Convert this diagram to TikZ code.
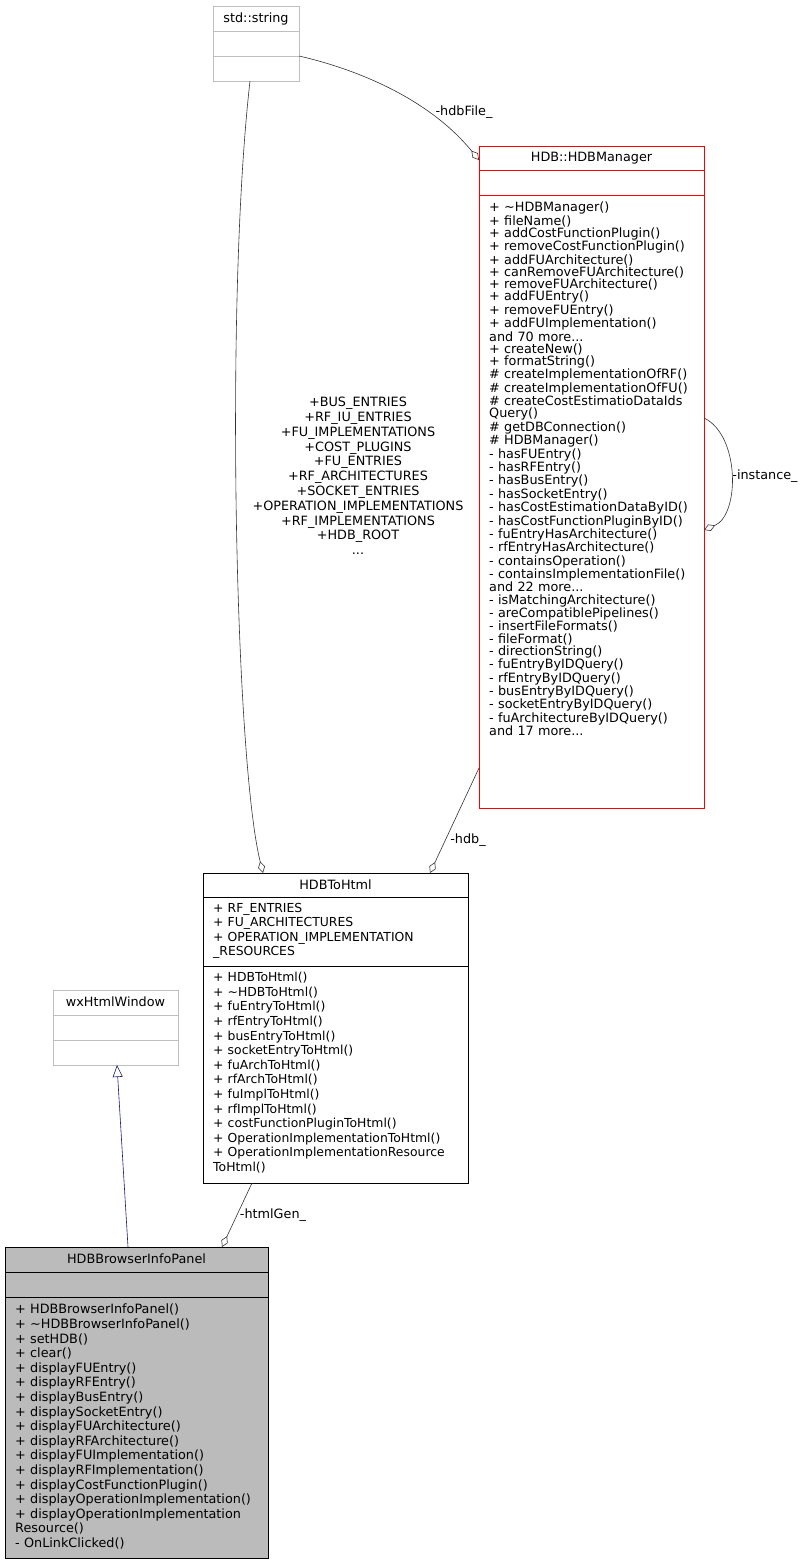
\documentclass[tikz,border=0pt]{standalone}
\usepackage{fontspec}
\setmainfont{DejaVu Sans}
\usetikzlibrary{arrows.meta}
\definecolor{grayb}{HTML}{BFBFBF}
\definecolor{panelfill}{HTML}{BBBBBB}
\definecolor{navy}{HTML}{191970}
\tikzset{
  cls/.style={draw, anchor=north west, inner sep=0pt, line width=0.8pt},
  ttl/.style={font=\fontsize{12.8}{14}\selectfont, inner sep=0pt},
  body/.style={anchor=north west, align=left, inner sep=0pt, text width=250pt},
  agg/.style={draw=black!80, line width=0.6pt, -{Diamond[open,length=12pt,width=7pt]}},
  lbl/.style={font=\fontsize{12.8}{14}\selectfont, inner sep=1pt},
}
\begin{document}
\begin{tikzpicture}[x=1pt,y=-1pt]
\useasboundingbox (0,0) rectangle (805,1564);
% std::string
\node[cls, draw=grayb, minimum width=86pt, minimum height=75pt] (str) at (213,6) {};
\draw[grayb,line width=0.8pt] (213,31) -- (299,31) (213,56) -- (299,56);
\node[ttl] (strt) at (256,19) {std::string};
% HDBManager
\node[cls, draw=red, minimum width=225pt, minimum height=662pt] (mgr) at (479,146) {};
\draw[red,line width=0.8pt] (479,170) -- (704,170) (479,195) -- (704,195);
\node[ttl] (mgrt) at (591.5,158) {HDB::HDBManager};
\node[body, text width=222pt, font=\fontsize{12.8}{12.22}\selectfont] (mgrm) at (489,202) {+ \textasciitilde HDBManager()\\+ fileName()\\+ addCostFunctionPlugin()\\+ removeCostFunctionPlugin()\\+ addFUArchitecture()\\+ canRemoveFUArchitecture()\\+ removeFUArchitecture()\\+ addFUEntry()\\+ removeFUEntry()\\+ addFUImplementation()\\and 70 more...\\+ createNew()\\+ formatString()\\\# createImplementationOfRF()\\\# createImplementationOfFU()\\\# createCostEstimatioDataIds\\Query()\\\# getDBConnection()\\\# HDBManager()\\- hasFUEntry()\\- hasRFEntry()\\- hasBusEntry()\\- hasSocketEntry()\\- hasCostEstimationDataByID()\\- hasCostFunctionPluginByID()\\- fuEntryHasArchitecture()\\- rfEntryHasArchitecture()\\- containsOperation()\\- containsImplementationFile()\\and 22 more...\\- isMatchingArchitecture()\\- areCompatiblePipelines()\\- insertFileFormats()\\- fileFormat()\\- directionString()\\- fuEntryByIDQuery()\\- rfEntryByIDQuery()\\- busEntryByIDQuery()\\- socketEntryByIDQuery()\\- fuArchitectureByIDQuery()\\and 17 more...};
% HDBToHtml
\node[cls, minimum width=265pt, minimum height=310pt] (h2h) at (203,873) {};
\draw[line width=0.8pt] (203,897) -- (468,897) (203,966) -- (468,966);
\node[ttl] (h2ht) at (335.5,885) {HDBToHtml};
\node[body, font=\fontsize{12.4}{14.4}\selectfont] (h2ha) at (213,903) {+ RF\_ENTRIES\\+ FU\_ARCHITECTURES\\+ OPERATION\_IMPLEMENTATION\\\_RESOURCES};
\node[body, font=\fontsize{12.4}{14.6}\selectfont] (h2hm) at (213,972) {+ HDBToHtml()\\+ \textasciitilde HDBToHtml()\\+ fuEntryToHtml()\\+ rfEntryToHtml()\\+ busEntryToHtml()\\+ socketEntryToHtml()\\+ fuArchToHtml()\\+ rfArchToHtml()\\+ fuImplToHtml()\\+ rfImplToHtml()\\+ costFunctionPluginToHtml()\\+ OperationImplementationToHtml()\\+ OperationImplementationResource\\ToHtml()};
% wxHtmlWindow
\node[cls, draw=grayb, minimum width=125pt, minimum height=75pt] (wx) at (53,990) {};
\draw[grayb,line width=0.8pt] (53,1015) -- (178,1015) (53,1040) -- (178,1040);
\node[ttl] (wxt) at (115.5,1002) {wxHtmlWindow};
% HDBBrowserInfoPanel
\node[cls, fill=panelfill, minimum width=263pt, minimum height=311pt] (pan) at (5,1247) {};
\draw[line width=0.8pt] (5,1272) -- (268,1272) (5,1297) -- (268,1297);
\node[ttl] (pant) at (136.5,1259) {HDBBrowserInfoPanel};
\node[body, font=\fontsize{12.8}{14.6}\selectfont] (panm) at (15,1304) {+ HDBBrowserInfoPanel()\\+ \textasciitilde HDBBrowserInfoPanel()\\+ setHDB()\\+ clear()\\+ displayFUEntry()\\+ displayRFEntry()\\+ displayBusEntry()\\+ displaySocketEntry()\\+ displayFUArchitecture()\\+ displayRFArchitecture()\\+ displayFUImplementation()\\+ displayRFImplementation()\\+ displayCostFunctionPlugin()\\+ displayOperationImplementation()\\+ displayOperationImplementation\\Resource()\\- OnLinkClicked()};
% connectors
\coordinate (strb) at (250,81);
\coordinate (h2htop1) at (263,873);
\draw[agg] (strb) .. controls (225,300) and (235,760) .. (h2htop1);
\node[lbl, align=center, font=\fontsize{12.8}{14.8}\selectfont] (attrlbl) at (358,476) {+BUS\_ENTRIES\\+RF\_IU\_ENTRIES\\+FU\_IMPLEMENTATIONS\\+COST\_PLUGINS\\+FU\_ENTRIES\\+RF\_ARCHITECTURES\\+SOCKET\_ENTRIES\\+OPERATION\_IMPLEMENTATIONS\\+RF\_IMPLEMENTATIONS\\+HDB\_ROOT\\...};
\coordinate (strr) at (299,56);
\coordinate (mgrl) at (479,160);
\draw[agg] (strr) .. controls (360,70) and (430,100) .. (mgrl);
\node[lbl] (hdbfile) at (464,112) {-hdbFile\_};
\coordinate (mgrbl) at (479,768);
\coordinate (h2htop2) at (430,873);
\draw[agg] (mgrbl) -- (h2htop2);
\node[lbl] (hdbl) at (468,840) {-hdb\_};
\coordinate (mgrr1) at (704,418);
\coordinate (mgrr2) at (704,530);
\draw[agg] (mgrr1) .. controls (740,435) and (740,515) .. (mgrr2);
\node[lbl] (instl) at (765,476) {-instance\_};
\coordinate (h2hb) at (252,1183);
\coordinate (pantop1) at (222,1247);
\draw[agg] (h2hb) -- (pantop1);
\node[lbl] (htmll) at (273,1215) {-htmlGen\_};
\coordinate (pantop2) at (128,1247);
\coordinate (wxb) at (117,1065);
\draw[navy, line width=0.6pt, -{Triangle[open,length=12pt,width=10pt]}] (pantop2) -- (wxb);
\end{tikzpicture}
\end{document}
